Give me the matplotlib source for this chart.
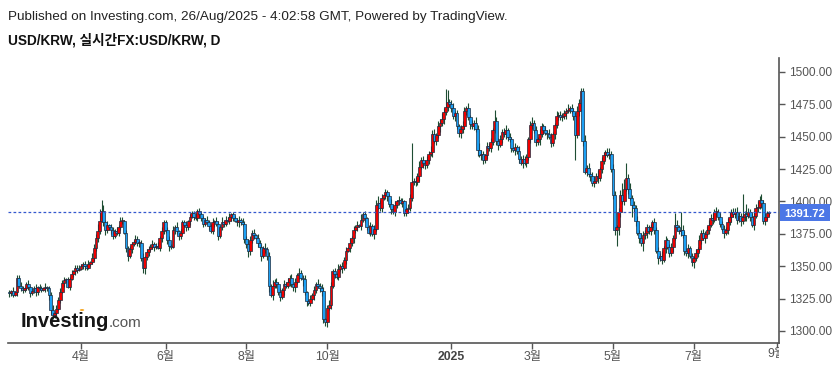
import numpy as np
import pandas as pd
import matplotlib
matplotlib.use("Agg")
import matplotlib.pyplot as plt
from matplotlib.patches import Rectangle, Circle

plt.rcParams['font.family'] = ['Liberation Sans', 'Noto Sans CJK KR', 'DejaVu Sans']

# ---------------- data (daily USD/KRW closes, business days) ----------------
first_open = 1330
c_2024_02 = [1329, 1331, 1328, 1330, 1341, 1335, 1333, 1332, 1333, 1336, 1334, 1329, 1331, 1333, 1330, 1334, 1333]
c_2024_03 = [1332, 1333, 1334, 1333, 1328, 1316, 1312, 1314, 1317, 1324, 1330, 1337, 1339, 1340, 1334, 1340,
             1344, 1346, 1349, 1347, 1348]
c_2024_04 = [1350, 1352, 1350, 1349, 1352, 1353, 1356, 1364, 1372, 1377, 1385, 1393, 1384, 1378, 1382, 1380,
             1378, 1373, 1377, 1376, 1380, 1385]
c_2024_05 = [1385, 1376, 1364, 1358, 1363, 1367, 1369, 1371, 1368, 1368, 1356, 1349, 1357, 1361, 1363, 1365,
             1367, 1365, 1366, 1364, 1372, 1377, 1384]
c_2024_06 = [1378, 1370, 1366, 1365, 1378, 1380, 1377, 1373, 1376, 1384, 1382, 1380, 1385, 1388, 1391, 1388,
             1387, 1393, 1390, 1387]
c_2024_07 = [1383, 1386, 1384, 1381, 1377, 1384, 1385, 1383, 1373, 1380, 1384, 1383, 1386, 1385, 1388, 1390,
             1387, 1385, 1384, 1386, 1384, 1383, 1371]
c_2024_08 = [1367, 1362, 1370, 1376, 1374, 1372, 1368, 1365, 1358, 1364, 1363, 1358, 1335, 1328, 1335, 1338,
             1336, 1330, 1326, 1332, 1336, 1335]
c_2024_09 = [1338, 1341, 1336, 1334, 1338, 1343, 1345, 1341, 1340, 1330, 1323, 1322, 1325, 1328, 1332, 1336,
             1335, 1333, 1331, 1309, 1307]
c_2024_10 = [1318, 1320, 1335, 1346, 1344, 1342, 1348, 1350, 1349, 1355, 1362, 1364, 1368, 1372, 1378, 1380,
             1382, 1381, 1386, 1390, 1387, 1380, 1376]
c_2024_11 = [1381, 1375, 1379, 1397, 1399, 1395, 1403, 1405, 1407, 1404, 1398, 1394, 1392, 1397, 1400, 1401,
             1399, 1400, 1391, 1394, 1395]
c_2024_12 = [1403, 1415, 1416, 1415, 1420, 1427, 1432, 1430, 1428, 1432, 1437, 1438, 1452, 1447, 1451, 1458,
             1461, 1464, 1469, 1473, 1477, 1475]
c_2025_01 = [1472, 1466, 1468, 1458, 1453, 1456, 1458, 1470, 1472, 1465, 1460, 1458, 1461, 1456, 1440, 1436,
             1437, 1432, 1436, 1443, 1441, 1446, 1455]
c_2025_02 = [1462, 1447, 1444, 1448, 1454, 1452, 1455, 1450, 1448, 1441, 1440, 1442, 1439, 1433, 1430, 1433,
             1430, 1434, 1448, 1459]
c_2025_03 = [1461, 1455, 1446, 1448, 1452, 1458, 1455, 1453, 1452, 1450, 1445, 1452, 1459, 1466, 1467, 1465,
             1466, 1468, 1470, 1471, 1472]
c_2025_04 = [1470, 1466, 1451, 1470, 1476, 1485, 1447, 1423, 1426, 1421, 1420, 1414, 1416, 1420, 1418, 1425,
             1431, 1436, 1438, 1436, 1437, 1425]
c_2025_05 = [1405, 1378, 1380, 1392, 1405, 1400, 1410, 1418, 1410, 1403, 1397, 1395, 1385, 1376, 1372, 1368,
             1374, 1376, 1380, 1377, 1380, 1384]
c_2025_06 = [1378, 1362, 1356, 1358, 1355, 1364, 1370, 1365, 1360, 1365, 1372, 1382, 1380, 1377, 1378, 1374,
             1362, 1360, 1364, 1358, 1353]
c_2025_07 = [1356, 1360, 1363, 1370, 1376, 1372, 1375, 1378, 1382, 1387, 1386, 1392, 1392, 1388, 1383, 1379,
             1376, 1378, 1384, 1388, 1392, 1390, 1392]
c_2025_08 = [1386, 1389, 1385, 1388, 1390, 1389, 1392, 1388, 1382, 1389, 1395, 1396, 1401, 1399, 1385, 1388,
             1391, 1391.72]

# upper / lower wick length beyond the body (KRW), one digit per day
wick_up = ("21312232123122312" "213122413232312231223" "2122314336924231322323"
           "31223213222412323223132" "22313241322312223122" "21322313224132312223132"
           "2432313222423142323132" "323132422312313242331" "24323142323141323142312"
           "323452313224131323123" "3923242313253424343492" "34232343242324353213232"
           "93232342321324232323" "423243232432242323242" "3234393424234242322342"
           "4323497434232424323232" "323242322329423432322" "23242323434242323234233"
           "432938323434352321")
wick_dn = ("32213123212312321" "213244323121321212321" "1232121223213422321232"
           "21342312232452312321232" "23421323212323121232" "32131242312321232134223"
           "3532313242335242323142" "232342325242314323432" "42323232423132423132321"
           "324232323424232313223" "2323242432324232434232" "32423432324232524323232"
           "23423243232423242323" "323242324232423232423" "2392434232423242324232"
           "3496423242934242634232" "324232423242324232423" "42323242323242324232423"
           "324234232423242322")
high_override = {'2024-04-16': 1401, '2024-12-03': 1445, '2024-12-27': 1487,
                 '2025-04-08': 1488, '2025-05-12': 1430, '2025-06-20': 1392, '2025-08-06': 1406}
low_override = {'2024-09-27': 1306, '2024-09-30': 1304, '2025-04-03': 1432,
                '2025-05-05': 1366}

last_price = 1391.72
tick_dates = ['2024-04-01', '2024-06-03', '2024-08-01', '2024-10-01', '2025-01-01',
              '2025-03-03', '2025-05-01', '2025-07-01']
tick_labels = ['4월', '6월', '8월', '10월', '2025', '3월', '5월', '7월']
y_ticks = [1300, 1325, 1350, 1375, 1400, 1425, 1450, 1475, 1500]

# ---------------- build OHLC ----------------
dates = pd.bdate_range('2024-02-07', '2025-08-26')
closes = np.array(c_2024_02 + c_2024_03 + c_2024_04 + c_2024_05 + c_2024_06 + c_2024_07 +
                  c_2024_08 + c_2024_09 + c_2024_10 + c_2024_11 + c_2024_12 + c_2025_01 +
                  c_2025_02 + c_2025_03 + c_2025_04 + c_2025_05 + c_2025_06 + c_2025_07 +
                  c_2025_08, dtype=float)
n = len(closes)
assert n == len(dates) == len(wick_up) == len(wick_dn), (n, len(dates), len(wick_up), len(wick_dn))
opens = np.r_[first_open, closes[:-1]]
highs = np.maximum(opens, closes) + np.array([int(ch) for ch in wick_up])
lows = np.minimum(opens, closes) - np.array([int(ch) for ch in wick_dn])
date_str = [d.strftime('%Y-%m-%d') for d in dates]
for k, v in high_override.items():
    highs[date_str.index(k)] = v
for k, v in low_override.items():
    lows[date_str.index(k)] = v
x = np.arange(n)

# ---------------- figure ----------------
W, H = 837, 365
fig = plt.figure(figsize=(W / 100, H / 100), dpi=100)
ax_l, ax_r, ax_t, ax_b = 8, 779, 58, 343
ax = fig.add_axes([ax_l / W, 1 - ax_b / H, (ax_r - ax_l) / W, (ax_b - ax_t) / H])

px_per_bar = 1.88
x0 = -1.5 / px_per_bar
ax.set_xlim(x0, x0 + (ax_r - ax_l) / px_per_bar)
def v_at(y):
    return 1300 + (331 - y) / 1.295
ax.set_ylim(v_at(ax_b), v_at(ax_t))

up = closes >= opens
up_col, dn_col = '#f00000', '#1ca0f4'
edge_col, wick_col = '#1d2b3f', '#1e4d33'
ax.vlines(x, lows, highs, color=wick_col, lw=0.8, zorder=1)
body_lo = np.minimum(opens, closes)
body_h = np.maximum(np.abs(closes - opens), 0.6)
ax.bar(x, body_h, bottom=body_lo, width=1.5,
       color=np.where(up, up_col, dn_col), edgecolor=edge_col, linewidth=0.5, zorder=2)

ax.axhline(last_price, color='#3558cf', lw=0.9, ls=(0, (2.2, 1.8)), zorder=3)

for s in ['top', 'left']:
    ax.spines[s].set_visible(False)
for s in ['right', 'bottom']:
    ax.spines[s].set_color('#555555')
    ax.spines[s].set_linewidth(1.2)

ax.yaxis.tick_right()
ax.set_yticks(y_ticks)
ax.set_yticklabels([f'{v:.2f}' for v in y_ticks])
ax.tick_params(axis='y', colors='#555555', labelsize=8.6, length=4, width=1, pad=3)
ax.tick_params(axis='y', labelcolor='#555555')

tick_pos = [date_str.index(d) if d in date_str else None for d in tick_dates]
tick_pos[4] = date_str.index('2024-12-31') + 1  # 2025-01-01 position
ax.set_xticks(tick_pos)
ax.set_xticklabels(tick_labels)
ax.tick_params(axis='x', colors='#555555', labelsize=8.8, length=4, width=1, pad=2)
for lab in ax.get_xticklabels():
    lab.set_color('#555555')
    if lab.get_text() == '2025':
        lab.set_fontweight('bold')
        lab.set_color('#444444')

# partially hidden "9월" label at the right edge
clip_rect = Rectangle((0, 0), ax_r / W, 1, transform=fig.transFigure, visible=False)
fig.add_artist(clip_rect)
pos9 = n - 1 + 4
x9_disp = ax.transData.transform((pos9, 0))[0]
t9 = fig.text(x9_disp / W, 1 - 346 / H - 2 / H, '9월', ha='center', va='top',
              fontsize=8.8, color='#555555', clip_on=True)
t9.set_clip_path(clip_rect)
ax.plot([pos9, pos9], [0, -0.014], transform=ax.get_xaxis_transform(), color='#555555',
        lw=1, clip_on=False)

# last-price box
y_lp = 1 - (331 - (last_price - 1300) * 1.295) / H
box = Rectangle((780 / W, y_lp - 8.5 / H), 50 / W, 17 / H, transform=fig.transFigure,
                facecolor='#4c77e6', edgecolor='none', zorder=5)
fig.add_artist(box)
fig.text(805 / W, y_lp - 1.5 / H, f'{last_price:.2f}', ha='center', va='center', color='white',
         fontsize=8.1, fontweight='bold', zorder=6)

# header text
fig.text(8 / W, 1 - 17 / H, 'Published on Investing.com, 26/Aug/2025 - 4:02:58 GMT, Powered by TradingView.',
         fontsize=9.7, color='#222222', va='center', ha='left')
fig.text(8 / W, 1 - 40 / H, 'USD/KRW, 실시간FX:USD/KRW, D', fontsize=9.8, fontweight='bold',
         color='#111111', va='center', ha='left')

# watermark
fig.text(21 / W, 1 - 327 / H, 'Investing', fontsize=14.5, fontweight='bold', color='#161616',
         va='baseline', ha='left', zorder=10)
fig.text(109 / W, 1 - 327 / H, '.com', fontsize=11, color='#555555', va='baseline', ha='left',
         zorder=10)
dot = Circle((82 / W, 1 - 310 / H), 2.2 / W, transform=fig.transFigure, facecolor='#f5a623',
             edgecolor='none', zorder=11)
fig.add_artist(dot)

fig.savefig('out.png', dpi=100)
